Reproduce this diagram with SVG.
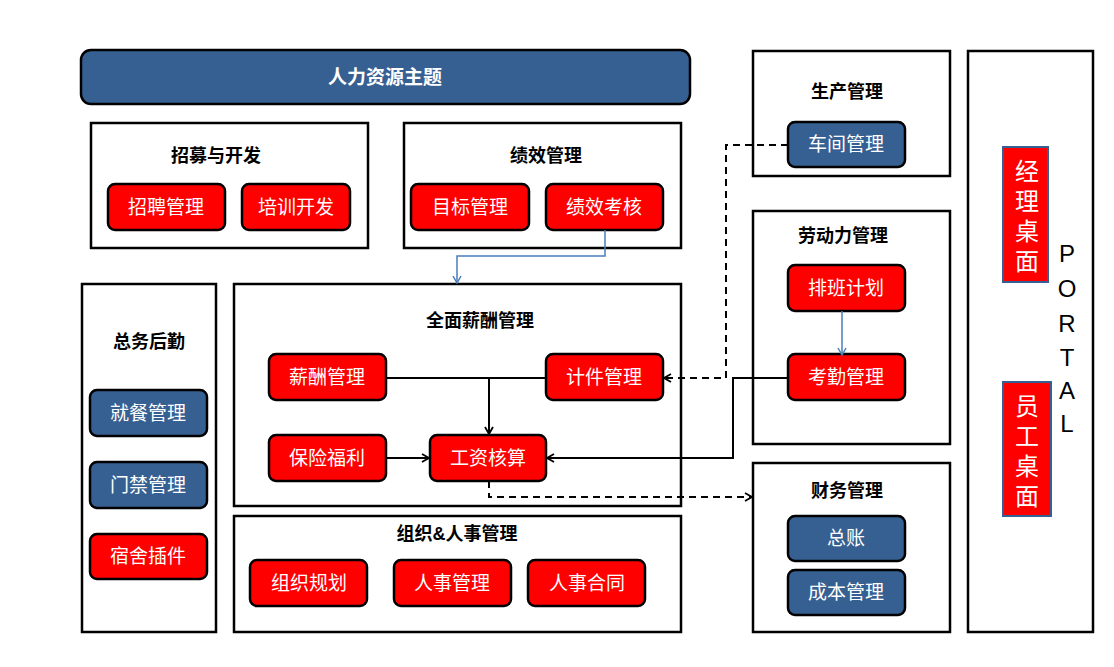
<svg xmlns="http://www.w3.org/2000/svg" width="1114" height="667" viewBox="0 0 1114 667">
<defs>
<style>
.box{fill:#fff;stroke:#000;stroke-width:2.5}
.r{fill:#ff0000;stroke:#000;stroke-width:2.5}
.b{fill:#376092;stroke:#000;stroke-width:2.5}
.t{font-family:"Liberation Sans","Noto Sans CJK SC",sans-serif;font-size:18px;font-weight:bold;fill:#000;text-anchor:middle}
.l{font-family:"Liberation Sans","Noto Sans CJK SC",sans-serif;font-size:19px;fill:#fff;text-anchor:middle}
.v{font-family:"Liberation Sans","Noto Sans CJK SC",sans-serif;font-size:24px;fill:#fff;text-anchor:middle}
.p{font-family:"Liberation Sans","Noto Sans CJK SC",sans-serif;font-size:24px;fill:#000;text-anchor:middle}
.c{fill:none;stroke:#000;stroke-width:2}
.d{fill:none;stroke:#000;stroke-width:2;stroke-dasharray:7,5}
.bl{fill:none;stroke:#4a7ebb;stroke-width:1.5}
</style>
<marker id="ah" markerWidth="10" markerHeight="10" refX="8" refY="5" orient="auto" markerUnits="userSpaceOnUse">
<path d="M1,1 L8,5 L1,9" fill="none" stroke="#000" stroke-width="1.8"/>
</marker>
<marker id="ahb" markerWidth="10" markerHeight="10" refX="8" refY="5" orient="auto" markerUnits="userSpaceOnUse">
<path d="M1,1 L8,5 L1,9" fill="none" stroke="#4a7ebb" stroke-width="1.5"/>
</marker>
</defs>
<rect width="1114" height="667" fill="#fff"/>

<g id="title">
<rect x="81" y="50" width="609" height="54" rx="10" class="b"/>
<text x="385" y="84" class="t" style="fill:#fff;font-size:19px">人力资源主题</text>
</g>

<g id="recruit">
<rect x="91" y="123" width="277" height="125" class="box"/>
<text x="216" y="162" class="t">招募与开发</text>
<g id="n-zhaopin"><rect x="108" y="184" width="117" height="46" rx="7" class="r"/><text x="166" y="214" class="l">招聘管理</text></g>
<g id="n-peixun"><rect x="242" y="184" width="108" height="46" rx="7" class="r"/><text x="296" y="214" class="l">培训开发</text></g>
</g>

<g id="perf">
<rect x="404" y="123" width="277" height="125" class="box"/>
<text x="546" y="162" class="t">绩效管理</text>
<g id="n-mubiao"><rect x="411" y="184" width="118" height="46" rx="7" class="r"/><text x="470" y="214" class="l">目标管理</text></g>
<g id="n-jixiao"><rect x="546" y="184" width="117" height="46" rx="7" class="r"/><text x="604" y="214" class="l">绩效考核</text></g>
</g>

<g id="comp">
<rect x="234" y="284" width="447" height="222" class="box"/>
<text x="480" y="327" class="t">全面薪酬管理</text>
<g id="n-xinchou"><rect x="269" y="354" width="117" height="46" rx="7" class="r"/><text x="327" y="384" class="l">薪酬管理</text></g>
<g id="n-jijian"><rect x="546" y="354" width="117" height="46" rx="7" class="r"/><text x="604" y="384" class="l">计件管理</text></g>
<g id="n-baoxian"><rect x="269" y="435" width="117" height="46" rx="7" class="r"/><text x="327" y="465" class="l">保险福利</text></g>
<g id="n-gongzi"><rect x="430" y="435" width="116" height="46" rx="7" class="r"/><text x="488" y="465" class="l">工资核算</text></g>
</g>

<g id="general">
<rect x="82" y="284" width="134" height="348" class="box"/>
<text x="149" y="348" class="t">总务后勤</text>
<g id="n-jiucan"><rect x="90" y="390" width="117" height="46" rx="7" class="b"/><text x="148" y="420" class="l">就餐管理</text></g>
<g id="n-menjin"><rect x="90" y="462" width="117" height="46" rx="7" class="b"/><text x="148" y="492" class="l">门禁管理</text></g>
<g id="n-sushe"><rect x="90" y="534" width="117" height="45" rx="7" class="r"/><text x="148" y="563" class="l">宿舍插件</text></g>
</g>

<g id="org">
<rect x="234" y="516" width="447" height="116" class="box"/>
<text x="457" y="540" class="t">组织&amp;人事管理</text>
<g id="n-zuzhi"><rect x="250" y="560" width="117" height="46" rx="7" class="r"/><text x="309" y="590" class="l">组织规划</text></g>
<g id="n-renshi"><rect x="394" y="560" width="117" height="46" rx="7" class="r"/><text x="452" y="590" class="l">人事管理</text></g>
<g id="n-hetong"><rect x="528" y="560" width="117" height="46" rx="7" class="r"/><text x="587" y="590" class="l">人事合同</text></g>
</g>

<g id="prod">
<rect x="753" y="51" width="197" height="125" class="box"/>
<text x="847" y="98" class="t">生产管理</text>
<g id="n-chejian"><rect x="788" y="122" width="117" height="45" rx="7" class="b"/><text x="846" y="151" class="l">车间管理</text></g>
</g>

<g id="labor">
<rect x="753" y="211" width="197" height="233" class="box"/>
<text x="843" y="242" class="t">劳动力管理</text>
<g id="n-paiban"><rect x="788" y="265" width="117" height="46" rx="7" class="r"/><text x="846" y="295" class="l">排班计划</text></g>
<g id="n-kaoqin"><rect x="788" y="354" width="117" height="46" rx="7" class="r"/><text x="846" y="384" class="l">考勤管理</text></g>
</g>

<g id="finance">
<rect x="753" y="463" width="197" height="169" class="box"/>
<text x="847" y="497" class="t">财务管理</text>
<g id="n-zongzhang"><rect x="788" y="516" width="117" height="45" rx="7" class="b"/><text x="846" y="545" class="l">总账</text></g>
<g id="n-chengben"><rect x="788" y="570" width="117" height="45" rx="7" class="b"/><text x="846" y="599" class="l">成本管理</text></g>
</g>

<g id="portal">
<rect x="968" y="51" width="125" height="581" class="box"/>
<g id="n-jingli"><rect x="1003" y="147" width="45" height="135" fill="#ff0000" stroke="#376092" stroke-width="2"/>
<text class="v"><tspan x="1027" y="180">经</tspan><tspan x="1027" y="210">理</tspan><tspan x="1027" y="240">桌</tspan><tspan x="1027" y="270">面</tspan></text></g>
<g id="n-yuangong"><rect x="1003" y="382" width="48" height="134" fill="#ff0000" stroke="#376092" stroke-width="2"/>
<text class="v"><tspan x="1027" y="415">员</tspan><tspan x="1027" y="445">工</tspan><tspan x="1027" y="475">桌</tspan><tspan x="1027" y="505">面</tspan></text></g>
<text class="p"><tspan x="1067" y="262">P</tspan><tspan x="1067" y="297">O</tspan><tspan x="1067" y="332">R</tspan><tspan x="1067" y="366">T</tspan><tspan x="1067" y="399">A</tspan><tspan x="1067" y="432">L</tspan></text>
</g>

<g id="connectors">
<path d="M605,230 V256 H457 V283" class="bl" marker-end="url(#ahb)"/>
<path d="M842,311 V355" class="bl" marker-end="url(#ahb)"/>
<path d="M386,378 H546" class="c"/>
<path d="M489,378 V434" class="c" marker-end="url(#ah)"/>
<path d="M386,458 H429" class="c" marker-end="url(#ah)"/>
<path d="M788,378 H733 V458 H547" class="c" marker-end="url(#ah)"/>
<path d="M788,145 H726 V378 H664" class="d" marker-end="url(#ah)"/>
<path d="M489,481 V497 H752" class="d" marker-end="url(#ah)"/>
</g>
</svg>
